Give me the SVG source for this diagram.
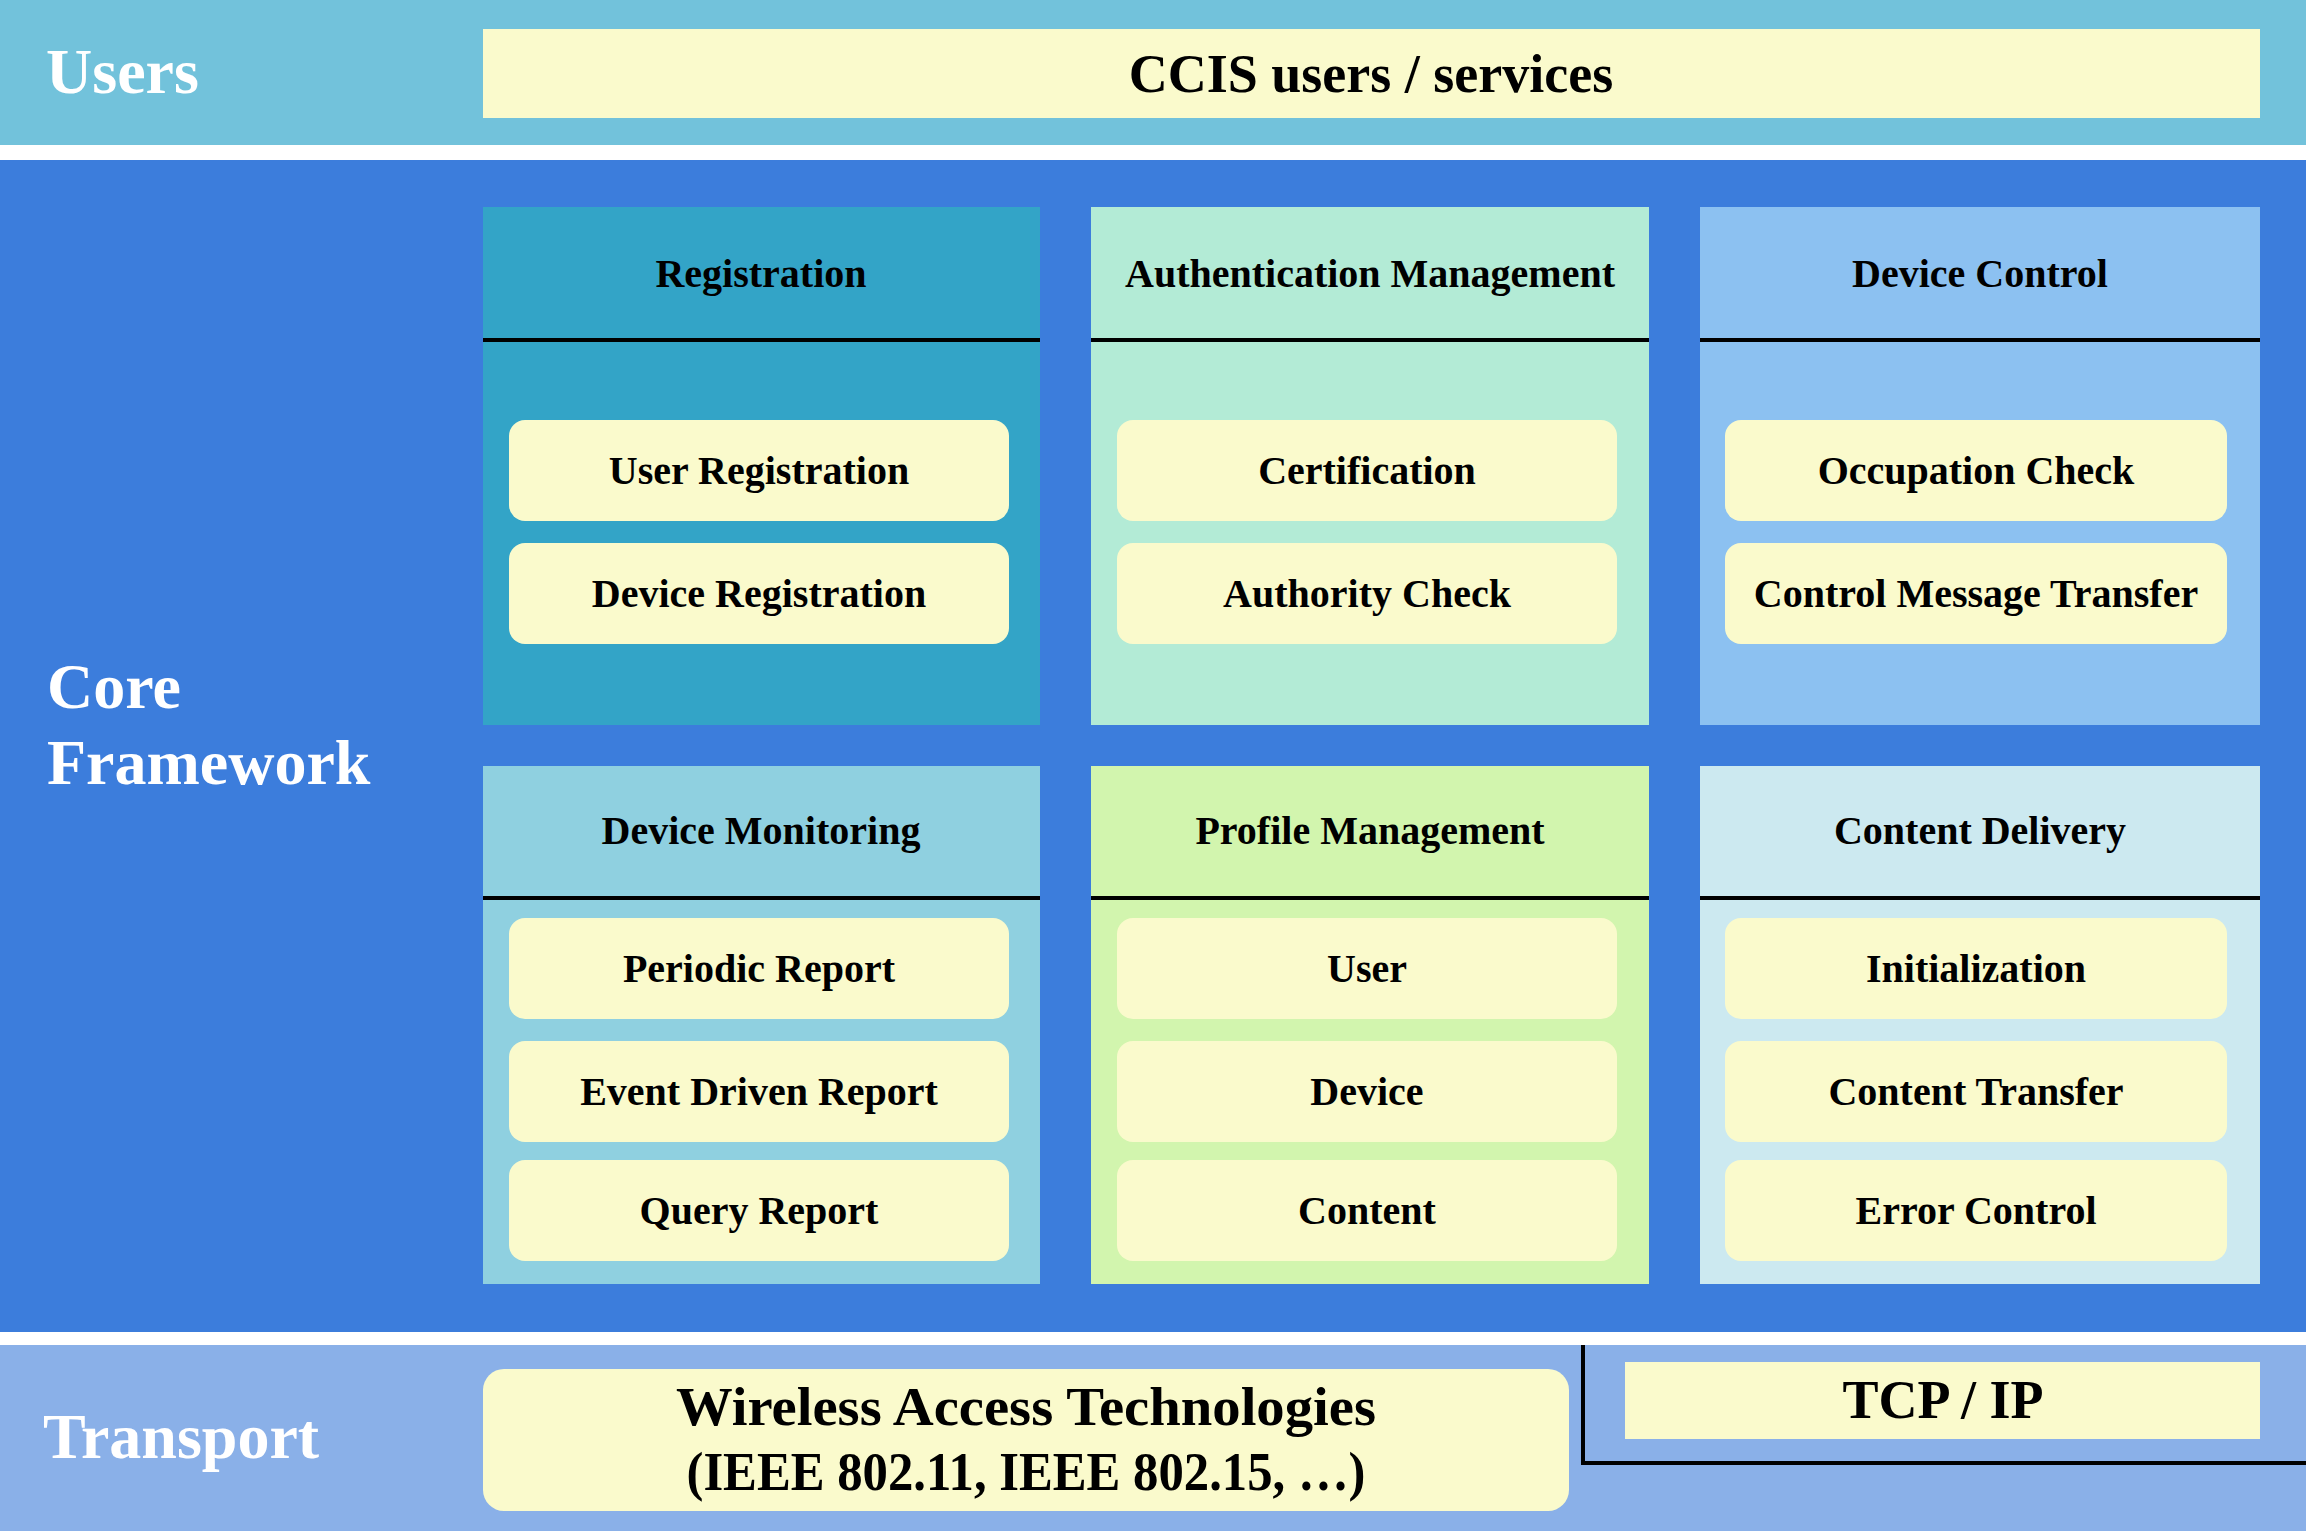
<svg xmlns="http://www.w3.org/2000/svg" width="2306" height="1534" viewBox="0 0 2306 1534">
  <style>
    text { font-family: "Liberation Serif", "Times New Roman", serif; font-weight: bold; }
    .lbl { fill: #ffffff; font-size: 64px; }
    .big { fill: #000000; font-size: 54px; text-anchor: middle; }
    .hd { fill: #000000; font-size: 40px; text-anchor: middle; }
    .it { fill: #000000; font-size: 40px; text-anchor: middle; }
    .box { fill: #FAFACC; }
    .sep { stroke: #000000; stroke-width: 4; }
  </style>
  <rect x="0" y="0" width="2306" height="1534" fill="#ffffff"/>

  <g id="band-users">
    <rect x="0" y="0" width="2306" height="145" fill="#72C2DB"/>
    <text class="lbl" x="46" y="93">Users</text>
  </g>
  <g id="ccis">
    <rect class="box" x="483" y="29" width="1777" height="89"/>
    <text class="big" x="1371" y="92">CCIS users / services</text>
  </g>

  <g id="band-core">
    <rect x="0" y="160" width="2306" height="1172" fill="#3C7DDC"/>
    <text class="lbl" x="47" y="708">Core</text>
    <text class="lbl" x="47" y="784">Framework</text>
  </g>

  <g id="registration">
    <rect x="483" y="207" width="557" height="518" fill="#33A4C7"/>
    <line class="sep" x1="483" y1="340" x2="1040" y2="340"/>
    <text class="hd" x="761" y="287">Registration</text>
    <rect class="box" x="509" y="420" width="500" height="101" rx="16"/>
    <text class="it" x="759" y="484">User Registration</text>
    <rect class="box" x="509" y="543" width="500" height="101" rx="16"/>
    <text class="it" x="759" y="607">Device Registration</text>
  </g>

  <g id="authentication">
    <rect x="1091" y="207" width="558" height="518" fill="#B3EBD6"/>
    <line class="sep" x1="1091" y1="340" x2="1649" y2="340"/>
    <text class="hd" x="1370" y="287">Authentication Management</text>
    <rect class="box" x="1117" y="420" width="500" height="101" rx="16"/>
    <text class="it" x="1367" y="484">Certification</text>
    <rect class="box" x="1117" y="543" width="500" height="101" rx="16"/>
    <text class="it" x="1367" y="607">Authority Check</text>
  </g>

  <g id="device-control">
    <rect x="1700" y="207" width="560" height="518" fill="#8CC1F1"/>
    <line class="sep" x1="1700" y1="340" x2="2260" y2="340"/>
    <text class="hd" x="1980" y="287">Device Control</text>
    <rect class="box" x="1725" y="420" width="502" height="101" rx="16"/>
    <text class="it" x="1976" y="484">Occupation Check</text>
    <rect class="box" x="1725" y="543" width="502" height="101" rx="16"/>
    <text class="it" x="1976" y="607">Control Message Transfer</text>
  </g>

  <g id="device-monitoring">
    <rect x="483" y="766" width="557" height="518" fill="#8FD0E0"/>
    <line class="sep" x1="483" y1="898" x2="1040" y2="898"/>
    <text class="hd" x="761" y="844">Device Monitoring</text>
    <rect class="box" x="509" y="918" width="500" height="101" rx="16"/>
    <text class="it" x="759" y="982">Periodic Report</text>
    <rect class="box" x="509" y="1041" width="500" height="101" rx="16"/>
    <text class="it" x="759" y="1105">Event Driven Report</text>
    <rect class="box" x="509" y="1160" width="500" height="101" rx="16"/>
    <text class="it" x="759" y="1224">Query Report</text>
  </g>

  <g id="profile-management">
    <rect x="1091" y="766" width="558" height="518" fill="#D2F5AE"/>
    <line class="sep" x1="1091" y1="898" x2="1649" y2="898"/>
    <text class="hd" x="1370" y="844">Profile Management</text>
    <rect class="box" x="1117" y="918" width="500" height="101" rx="16"/>
    <text class="it" x="1367" y="982">User</text>
    <rect class="box" x="1117" y="1041" width="500" height="101" rx="16"/>
    <text class="it" x="1367" y="1105">Device</text>
    <rect class="box" x="1117" y="1160" width="500" height="101" rx="16"/>
    <text class="it" x="1367" y="1224">Content</text>
  </g>

  <g id="content-delivery">
    <rect x="1700" y="766" width="560" height="518" fill="#CCE9F0"/>
    <line class="sep" x1="1700" y1="898" x2="2260" y2="898"/>
    <text class="hd" x="1980" y="844">Content Delivery</text>
    <rect class="box" x="1725" y="918" width="502" height="101" rx="16"/>
    <text class="it" x="1976" y="982">Initialization</text>
    <rect class="box" x="1725" y="1041" width="502" height="101" rx="16"/>
    <text class="it" x="1976" y="1105">Content Transfer</text>
    <rect class="box" x="1725" y="1160" width="502" height="101" rx="16"/>
    <text class="it" x="1976" y="1224">Error Control</text>
  </g>

  <g id="band-transport">
    <rect x="0" y="1345" width="2306" height="186" fill="#8AB0E8"/>
    <text class="lbl" x="43" y="1458">Transport</text>
  </g>

  <g id="wireless">
    <rect class="box" x="483" y="1369" width="1086" height="142" rx="21"/>
    <text class="big" x="1026" y="1425" textLength="700" lengthAdjust="spacingAndGlyphs">Wireless Access Technologies</text>
    <text class="big" x="1026" y="1490" textLength="679" lengthAdjust="spacingAndGlyphs">(IEEE 802.11, IEEE 802.15, …)</text>
  </g>

  <g id="tcpip">
    <rect class="box" x="1625" y="1362" width="635" height="77"/>
    <text class="big" x="1943" y="1418">TCP / IP</text>
  </g>

  <g id="connectors">
    <polyline points="1583,1345 1583,1463 2306,1463" fill="none" stroke="#000000" stroke-width="4"/>
  </g>
</svg>
